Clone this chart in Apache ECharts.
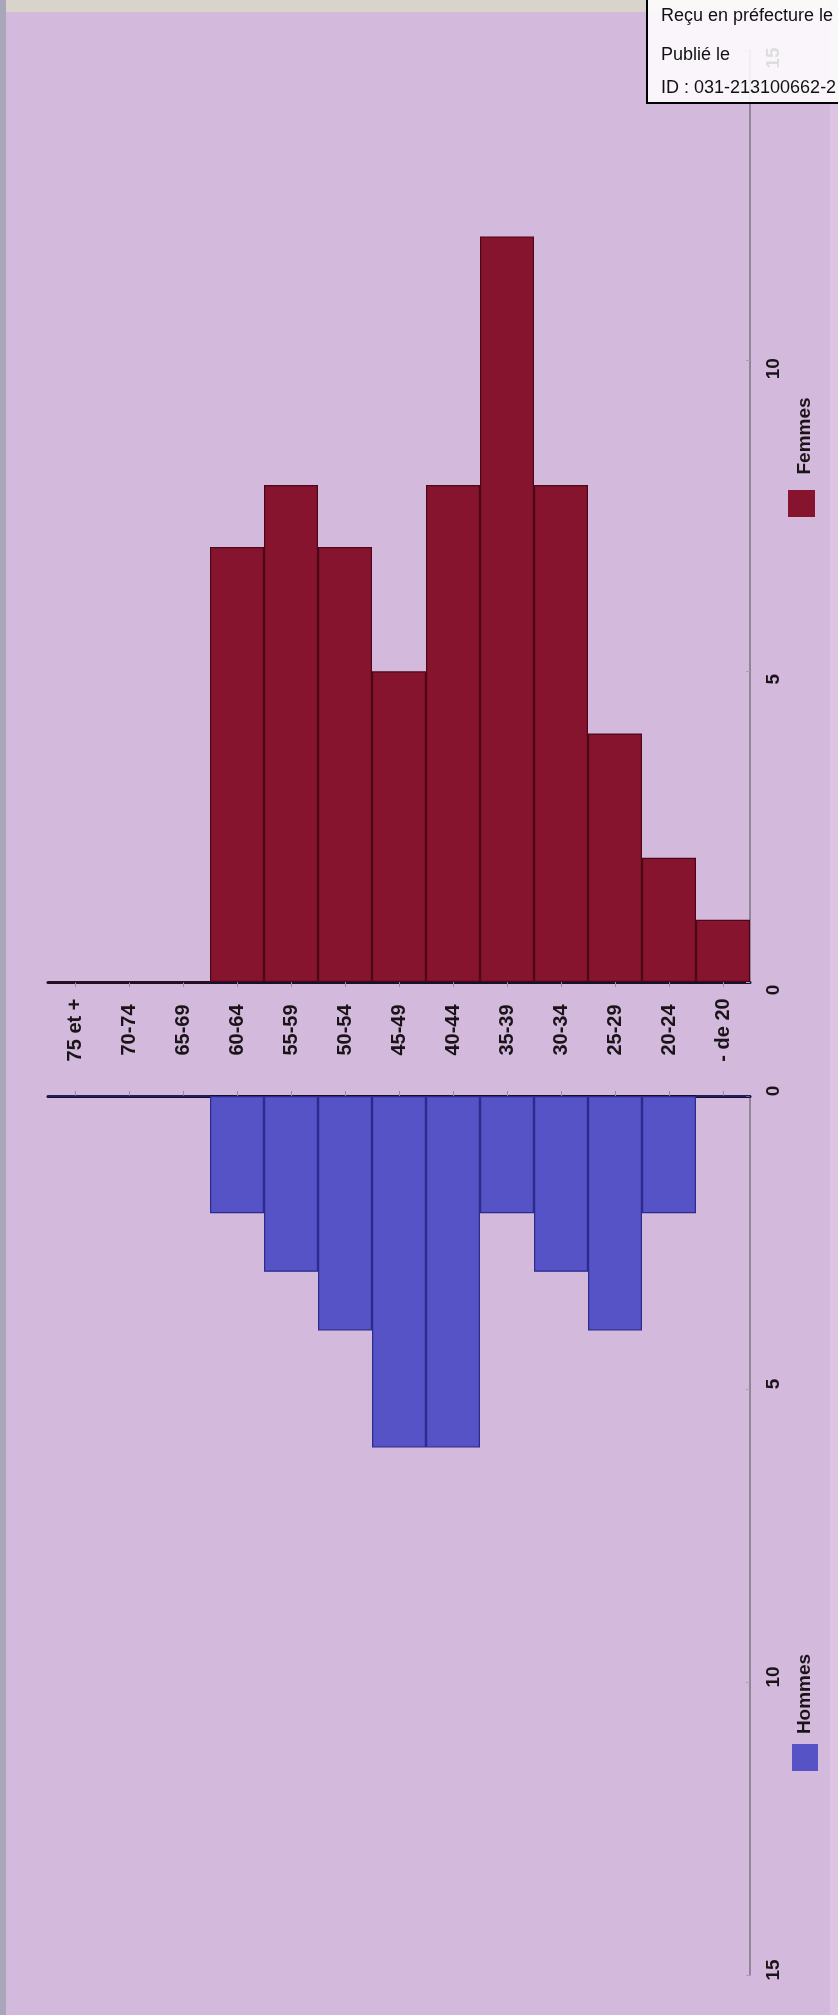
<!DOCTYPE html>
<html>
<head>
<meta charset="utf-8">
<script src="https://cdn.jsdelivr.net/npm/echarts@6/dist/echarts.min.js"></script>
<style>
html,body{margin:0;padding:0;background:#d3b9dc;}
#chart{width:838px;height:2015px;}
</style>
</head>
<body>
<div id="chart"></div>
<script>
const categories = ['75 et +','70-74','65-69','60-64','55-59','50-54','45-49','40-44','35-39','30-34','25-29','20-24','- de 20'];
const femmes = [0,0,0,7,8,7,5,8,12,8,4,2,1];
const hommes = [0,0,0,2,3,4,6,6,2,3,4,2,0];
const seriesNames = ['Femmes','Hommes'];
const valueMin = 0, valueMax = 15, valueStep = 5;
const stampLines = ['Reçu en préfecture le','Publié le','ID : 031-213100662-2'];

const FONT = '"Liberation Sans", Arial, sans-serif';
const colF = '#86142f', colH = '#5553c5';

const chart = echarts.init(document.getElementById('chart'), null, {renderer:'canvas'});

function catAxis(gi, pos, showLabel){
  return {
    type:'category', gridIndex:gi, data:categories, position:pos,
    boundaryGap:true,
    axisLine:{show:true, lineStyle:{color:'#16102a', width:3}},
    axisTick:{show:true, alignWithLabel:true, length:5, lineStyle:{color:'#9a8aa4', width:1}},
    axisLabel:{show:showLabel, rotate:90, margin:48, align:'center', verticalAlign:'middle',
      fontFamily:FONT, fontWeight:'bold', fontSize:20, color:'#1a1418'},
    splitLine:{show:false}
  };
}
function valAxis(gi, inverse, pad){
  return {
    type:'value', gridIndex:gi, position:'right', min:valueMin, max:valueMax, interval:valueStep,
    inverse:inverse,
    axisLine:{show:true, lineStyle:{color:'#7c7484', width:1.5}},
    axisTick:{show:true, inside:true, length:4, lineStyle:{color:'#a9a0b0'}},
    axisLabel:{show:true, rotate:90, margin:24, align:'center', verticalAlign:'middle', padding:pad,
      fontFamily:FONT, fontWeight:'bold', fontSize:19, color:'#1a1418'},
    splitLine:{show:false}
  };
}

const option = {
  backgroundColor:'#d3b9dc',
  animation:false,
  grid:[
    {left:48, width:702, top:50, height:932},
    {left:48, width:702, top:1096, height:879}
  ],
  xAxis:[catAxis(0,'bottom',true), catAxis(1,'top',false)],
  yAxis:[valAxis(0,false,[0,16,0,0]), valAxis(1,true,[0,0,0,10])],
  series:[
    {name:seriesNames[0], type:'bar', xAxisIndex:0, yAxisIndex:0, data:femmes,
     barCategoryGap:'0%', itemStyle:{color:colF, borderColor:'#4e0716', borderWidth:1.2}},
    {name:seriesNames[1], type:'bar', xAxisIndex:1, yAxisIndex:1, data:hommes,
     barCategoryGap:'0%', itemStyle:{color:colH, borderColor:'#2c2a8c', borderWidth:1.2}}
  ],
  graphic:[
    {type:'rect', z:-10, silent:true, shape:{x:0,y:0,width:838,height:12}, style:{fill:'#d9d4cb'}},
    {type:'rect', z:-10, silent:true, shape:{x:0,y:0,width:6,height:2015}, style:{fill:'#a9a6ba'}},
    {type:'rect', z:-10, silent:true, shape:{x:830,y:0,width:8,height:2015}, style:{fill:'#dcc4e2'}},
    // legend Femmes
    {type:'text', x:805, y:436, rotation:Math.PI/2,
      style:{text:seriesNames[0], fontFamily:FONT, fontWeight:'bold', fontSize:19, fill:'#1a1418', align:'center', verticalAlign:'middle'}},
    {type:'rect', shape:{x:788,y:490,width:27,height:27}, style:{fill:colF}},
    // legend Hommes
    {type:'text', x:805, y:1694, rotation:Math.PI/2,
      style:{text:seriesNames[1], fontFamily:FONT, fontWeight:'bold', fontSize:19, fill:'#1a1418', align:'center', verticalAlign:'middle'}},
    {type:'rect', shape:{x:792,y:1744,width:26,height:27}, style:{fill:colH}},
    // stamp box
    {type:'rect', z:100, shape:{x:647,y:-5,width:200,height:108}, style:{fill:'rgba(255,255,255,0.86)', stroke:'#000', lineWidth:2}},
    {type:'text', z:101, x:661, y:16, style:{text:stampLines[0], fontFamily:FONT, fontSize:18, fill:'#111', verticalAlign:'middle'}},
    {type:'text', z:101, x:661, y:55, style:{text:stampLines[1], fontFamily:FONT, fontSize:18, fill:'#111', verticalAlign:'middle'}},
    {type:'text', z:101, x:661, y:88, style:{text:stampLines[2], fontFamily:FONT, fontSize:18, fill:'#111', verticalAlign:'middle'}}
  ]
};
chart.setOption(option);
</script>
</body>
</html>
